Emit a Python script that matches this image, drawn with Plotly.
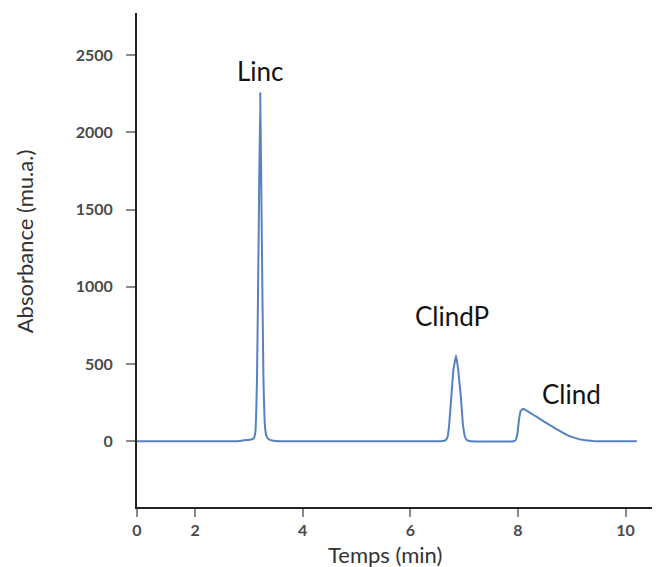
import plotly.graph_objects as go

# Chromatogram trace (time in min, absorbance in mu.a.)
time_min = [0.92, 2.80, 2.88, 2.96, 3.04, 3.09, 3.12, 3.15, 3.18, 3.21, 3.24, 3.27, 3.30, 3.33, 3.38, 3.46, 3.60,
            6.50, 6.60, 6.65, 6.69, 6.72, 6.76, 6.80, 6.85, 6.89, 6.94, 6.98, 7.02, 7.06, 7.12,
            7.92, 7.96, 7.99, 8.02, 8.05, 8.10, 8.20, 8.30, 8.40, 8.50, 8.60, 8.70, 8.80, 8.90, 9.00,
            9.10, 9.20, 9.30, 9.40, 9.50, 10.21]
absorbance = [0, 0, 4, 8, 11, 18, 60, 400, 1300, 2255, 1300, 400, 90, 30, 10, 3, 0,
              0, 2, 6, 25, 100, 280, 460, 555, 460, 280, 100, 25, 5, 0,
              0, 8, 50, 140, 195, 210, 190, 168, 146, 124, 103, 82, 62, 43, 28,
              17, 9, 4, 1, 0, 0]

peak_names = ["Linc", "ClindP", "Clind"]
peak_label_x = [3.21, 6.78, 8.99]
peak_label_y = [2395, 810, 305]

x_tick_vals = [0.92, 2, 4, 6, 8, 10]
x_tick_text = ["0", "2", "4", "6", "8", "10"]
y_tick_vals = [0, 500, 1000, 1500, 2000, 2500]

x_title = "Temps (min)"
y_title = "Absorbance (mu.a.)"

FONT = "Lato"

fig = go.Figure()
fig.add_trace(go.Scatter(
    x=time_min, y=absorbance, mode="lines",
    line=dict(color="#5682bd", width=2, shape="spline", smoothing=0.3),
    hoverinfo="x+y", showlegend=False,
))

for name, lx, ly in zip(peak_names, peak_label_x, peak_label_y):
    fig.add_annotation(x=lx, y=ly, text=name, showarrow=False,
                       font=dict(family=FONT, size=26, color="#111111"))

# axis titles (placed slightly off-centre, as in the reference)
fig.add_annotation(xref="paper", yref="paper", x=0.474, y=0, yshift=-47, xanchor="center", yanchor="middle",
                   text=x_title, showarrow=False, font=dict(family=FONT, size=22, color="#333333"))
fig.add_annotation(xref="paper", yref="paper", x=0, xshift=-113, y=0.538, xanchor="center", yanchor="middle",
                   text=y_title, textangle=-90, showarrow=False, font=dict(family=FONT, size=22, color="#333333"))

tick_font = dict(family=FONT, size=16, color="#4a4a4a", weight="bold")

# page body has an 8px default margin, so the figure is sized to fill the rest of the window
fig.update_layout(
    width=652, height=559,
    margin=dict(l=129, r=0, t=5, b=60),
    paper_bgcolor="white", plot_bgcolor="white",
    font=dict(family=FONT, color="#333333"),
    xaxis=dict(
        range=[0.92, 10.64], tickmode="array", tickvals=x_tick_vals, ticktext=x_tick_text,
        showgrid=False, zeroline=False, showline=True, linecolor="#222222", linewidth=2,
        ticks="outside", ticklen=8, tickwidth=1.5, tickcolor="#888888",
        tickfont=tick_font, ticklabelstandoff=0,
    ),
    yaxis=dict(
        range=[-426, 2773], tickmode="array", tickvals=y_tick_vals,
        showgrid=False, zeroline=False, showline=True, linecolor="#222222", linewidth=2,
        ticks="outside", ticklen=9, tickwidth=1.5, tickcolor="#888888",
        tickfont=tick_font, ticklabelstandoff=10,
    ),
)

fig.write_html("out.html")
